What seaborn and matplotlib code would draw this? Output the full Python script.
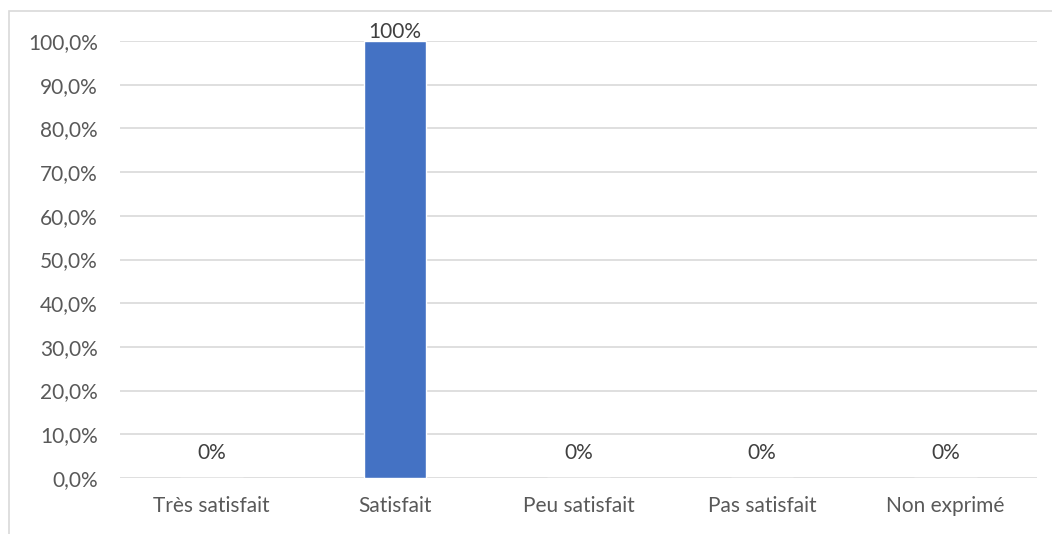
import matplotlib
matplotlib.use('Agg')
import matplotlib.pyplot as plt
import matplotlib.ticker as mticker
from matplotlib.patches import Rectangle
import seaborn as sns
import pandas as pd

# ------------------------ Data ------------------------ #
categories = ['Très satisfait', 'Satisfait', 'Peu satisfait', 'Pas satisfait', 'Non exprimé']
values = [0.0, 1.0, 0.0, 0.0, 0.0]
value_labels = ['0%', '100%', '0%', '0%', '0%']
y_ticks = [0.0, 0.1, 0.2, 0.3, 0.4, 0.5, 0.6, 0.7, 0.8, 0.9, 1.0]

df = pd.DataFrame({'Satisfaction': categories, 'Part': values})

sns.set_style('white')
plt.rcParams['font.family'] = ['Lato', 'DejaVu Sans']
text_color = '#595959'
grid_color = '#D9D9D9'

fig = plt.figure(figsize=(10.52, 5.34), dpi=100)
ax = fig.add_axes([0.114, 0.105, 0.872, 0.818])

sns.barplot(data=df, x='Satisfaction', y='Part', color='#4472C4', width=0.34,
            saturation=1, ax=ax, zorder=3)

ax.set_ylim(0, 1.0)
ax.set_yticks(y_ticks)
ax.yaxis.set_major_formatter(mticker.FuncFormatter(lambda v, _: f"{v * 100:.1f}%".replace('.', ',')))
ax.grid(axis='y', color=grid_color, linewidth=1.2, zorder=0)
ax.set_axisbelow(True)
for s in ax.spines.values():
    s.set_visible(False)
ax.tick_params(axis='both', length=0, labelsize=15, labelcolor=text_color)
ax.tick_params(axis='y', pad=16)
ax.tick_params(axis='x', pad=13)
ax.set_xlabel('')
ax.set_ylabel('')

# data labels: Excel puts zero labels a bit higher than the bar top ones
for i, (v, lab) in enumerate(zip(values, value_labels)):
    off = 6.5 if v > 0 else 18
    ax.annotate(lab, (i, v), xytext=(0, off), textcoords='offset points',
                ha='center', va='center', fontsize=15, color='#404040')

# chart frame
fig.patches.append(Rectangle((9 / 1052, -0.1), 1.2, 1 - 11 / 534 + 0.1,
                             transform=fig.transFigure, fill=False,
                             edgecolor=grid_color, linewidth=1.2))

plt.savefig('out.png', dpi=100)
